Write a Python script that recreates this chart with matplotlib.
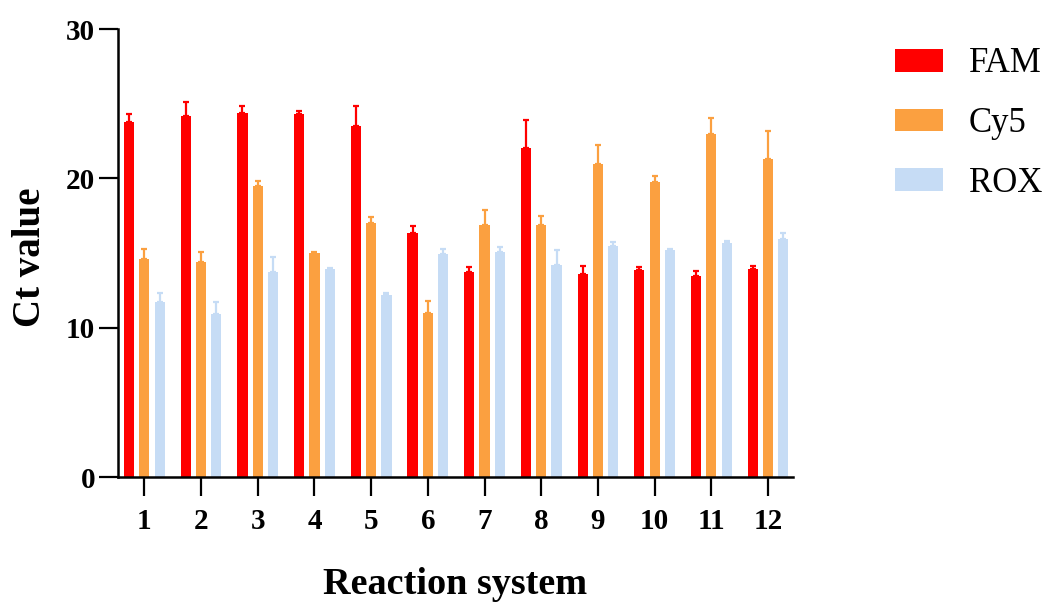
import matplotlib
matplotlib.use("Agg")
import matplotlib.pyplot as plt
import numpy as np

# Ct values (mean, upper error)
systems = ["1", "2", "3", "4", "5", "6", "7", "8", "9", "10", "11", "12"]
fam = [23.75, 24.2, 24.35, 24.3, 23.5, 16.35, 13.75, 22.0, 13.6, 13.85, 13.45, 13.95]
fam_err = [0.55, 0.9, 0.5, 0.2, 1.35, 0.45, 0.3, 1.9, 0.5, 0.18, 0.33, 0.16]
cy5 = [14.6, 14.4, 19.5, 15.0, 17.0, 11.0, 16.85, 16.85, 20.95, 19.75, 23.0, 21.3]
cy5_err = [0.65, 0.7, 0.3, 0.1, 0.4, 0.8, 1.0, 0.6, 1.3, 0.43, 1.05, 1.9]
rox = [11.75, 10.9, 13.7, 13.9, 12.2, 14.9, 15.1, 14.2, 15.5, 15.2, 15.65, 15.95]
rox_err = [0.6, 0.8, 1.05, 0.12, 0.15, 0.4, 0.3, 1.0, 0.27, 0.1, 0.15, 0.4]

series = [("FAM", fam, fam_err, "#FF0000"),
          ("Cy5", cy5, cy5_err, "#FBA040"),
          ("ROX", rox, rox_err, "#C6DCF5")]

plt.rcParams["font.family"] = ["Liberation Serif", "DejaVu Serif"]

dpi = 100
fig = plt.figure(figsize=(1053 / dpi, 608 / dpi), dpi=dpi)
ax = fig.add_axes([118 / 1053, 131 / 608, 675 / 1053, 448 / 608])

x = np.arange(len(systems))
offset = 0.27
width = 0.18
for i, (name, vals, errs, col) in enumerate(series):
    pos = x + (i - 1) * offset
    ax.bar(pos, vals, width=width, color=col, label=name, zorder=2)
    ax.errorbar(pos, vals, yerr=[np.zeros(len(errs)), errs], fmt="none",
                ecolor=col, elinewidth=1.6, capsize=2.5, capthick=1.6, zorder=3)

ax.set_xlim(-0.464, 11.44)
ax.set_ylim(0, 30)
ax.set_yticks([0, 10, 20, 30])
ax.set_xticks(x)
ax.set_xticklabels(systems)

for s in ["top", "right"]:
    ax.spines[s].set_visible(False)
for s in ["left", "bottom"]:
    ax.spines[s].set_linewidth(1.8)

ax.tick_params(axis="both", length=13.5, width=1.6, labelsize=21)
ax.tick_params(axis="x", pad=9)
ax.tick_params(axis="y", pad=3)
for lbl in ax.get_xticklabels() + ax.get_yticklabels():
    lbl.set_fontweight("bold")

ax.set_ylabel("Ct value", fontsize=28, fontweight="bold")
ax.yaxis.set_label_coords(-0.102, 0.49)
ax.set_xlabel("Reaction system", fontsize=27.5, fontweight="bold")
ax.xaxis.set_label_coords(0.5, -0.201)

ax.legend(loc="upper left", bbox_to_anchor=(895 / 1053, 0.922),
          bbox_transform=fig.transFigure, frameon=False, fontsize=25,
          handlelength=1.38, handleheight=0.63, handletextpad=0.75,
          labelspacing=0.77, borderpad=0, borderaxespad=0)

fig.savefig("out.png", dpi=dpi)
